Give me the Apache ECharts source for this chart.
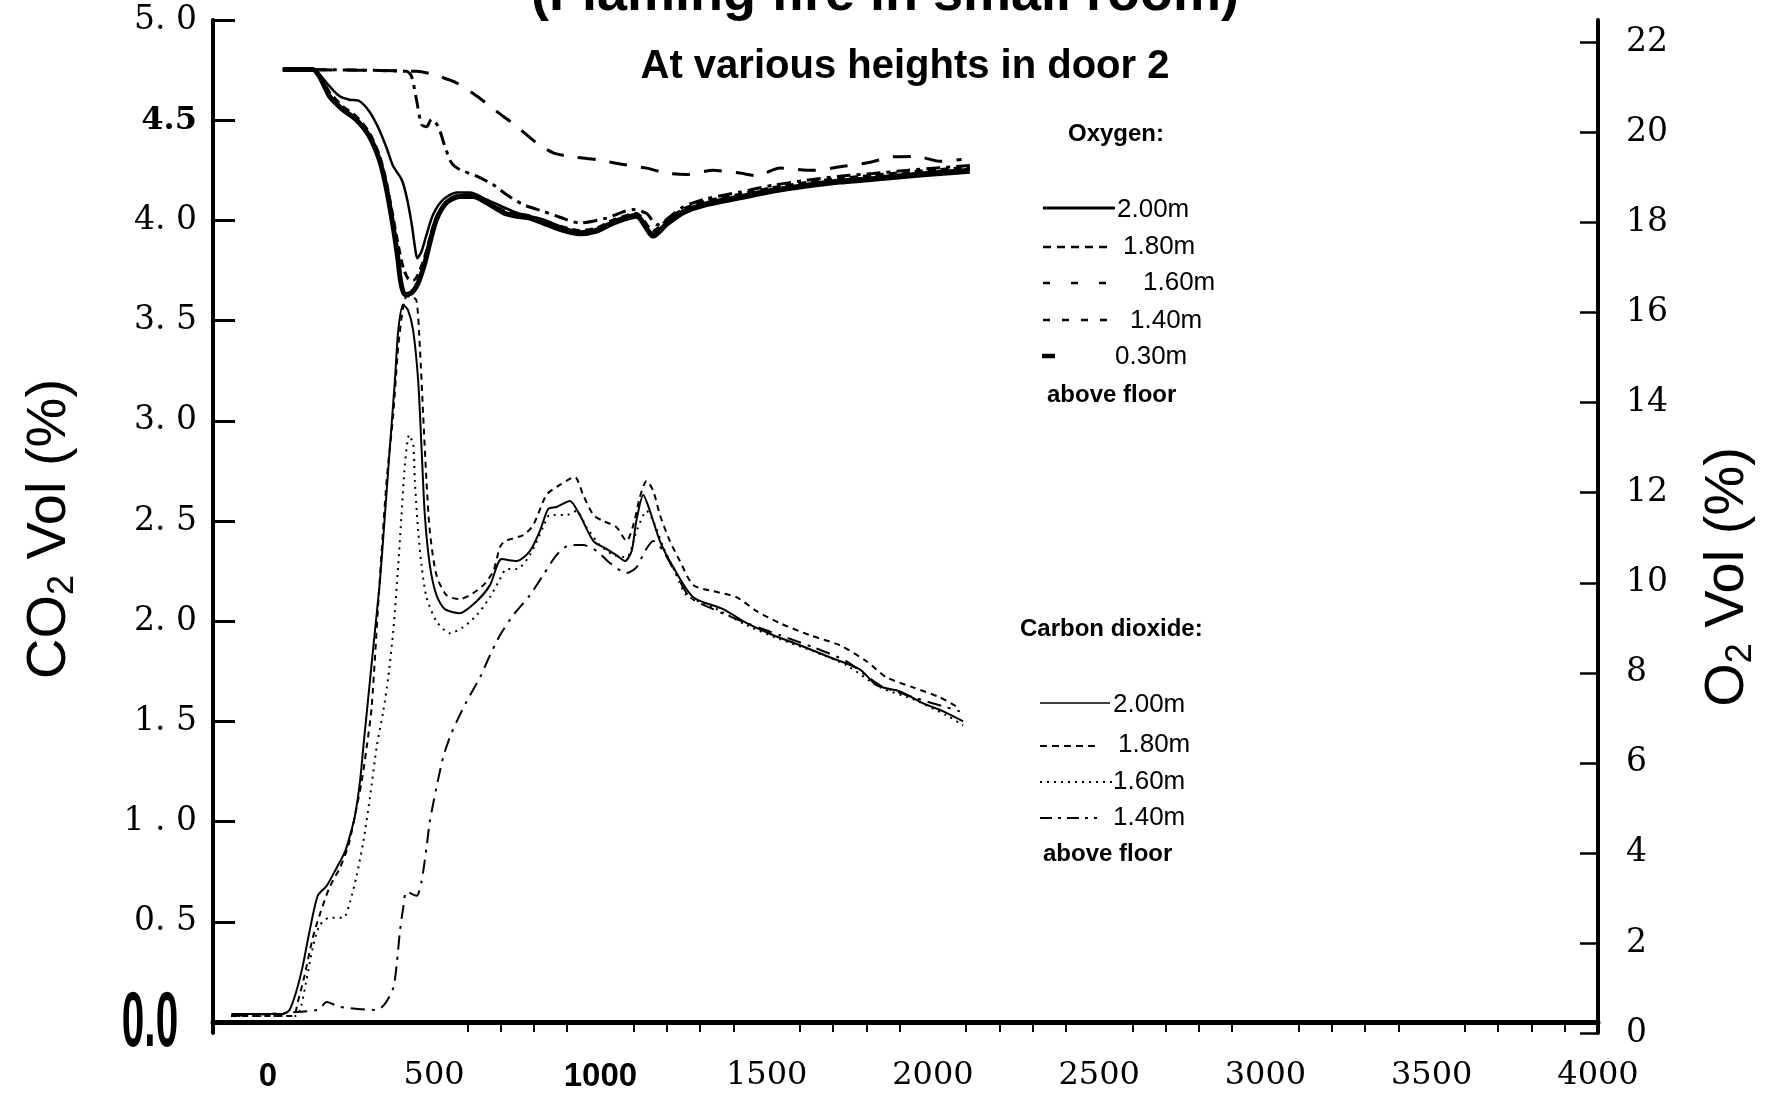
<!DOCTYPE html>
<html>
<head>
<meta charset="utf-8">
<script src="https://cdn.jsdelivr.net/npm/echarts@6/dist/echarts.min.js"></script>
</head>
<body style="margin:0;background:#fff">
<div id="main" style="width:1775px;height:1099px;"></div>
<script type="text/javascript">
// time axis (s) ticks
var xTickValues = [0, 500, 1000, 1500, 2000, 2500, 3000, 3500, 4000];
var xTickLabels = ['0', '500', '1000', '1500', '2000', '2500', '3000', '3500', '4000'];
var xMinorTicks = [600, 700, 800, 900, 1100, 1200, 1300, 1400, 1600, 1700, 1800, 1900, 2100, 2200,
    2300, 2400, 2600, 2700, 2800, 2900, 3100, 3200, 3300, 3400, 3600, 3700, 3800, 3900];
var co2TickValues = [0, 0.5, 1, 1.5, 2, 2.5, 3, 3.5, 4, 4.5, 5];
var co2TickLabels = ['0.0', '0. 5', '1 . 0', '1. 5', '2. 0', '2. 5', '3. 0', '3. 5', '4. 0', '4.5', '5. 0'];
var o2TickValues = [0, 2, 4, 6, 8, 10, 12, 14, 16, 18, 20, 22];

// Oxygen, right axis
var o2Time200 = [45, 135, 155, 185, 215, 245, 275, 305, 330, 355, 377, 402, 417, 432, 442, 449, 462, 477, 497, 527, 568, 608, 658, 748, 828, 878, 938, 988, 1039, 1108, 1159, 1199, 1249, 1319, 1420, 1520, 1620, 1720, 1820, 1921, 2021, 2111];
var o2Val200 = [21.4, 21.4, 21.29, 21.03, 20.81, 20.73, 20.7, 20.47, 20.14, 19.7, 19.25, 18.96, 18.58, 17.99, 17.47, 17.21, 17.36, 17.73, 18.18, 18.51, 18.67, 18.67, 18.51, 18.22, 18.07, 17.92, 17.8, 17.86, 18.04, 18.19, 17.75, 18.01, 18.27, 18.45, 18.6, 18.75, 18.86, 18.95, 19.01, 19.08, 19.14, 19.19];
var o2Time180 = [45, 135, 155, 185, 225, 265, 305, 335, 355, 377, 392, 407, 422, 437, 452, 472, 487, 507, 537, 577, 617, 658, 708, 748, 788, 828, 878, 938, 988, 1039, 1108, 1159, 1199, 1249, 1319, 1420, 1520, 1620, 1720, 1820, 1921, 2021, 2111];
var o2Val180 = [21.4, 21.4, 21.27, 20.9, 20.58, 20.36, 20.0, 19.5, 18.95, 18.1, 17.5, 17.0, 16.75, 16.72, 16.85, 17.25, 17.65, 18.12, 18.47, 18.62, 18.62, 18.48, 18.27, 18.19, 18.15, 18.04, 17.92, 17.82, 17.88, 18.06, 18.2, 17.82, 18.05, 18.3, 18.48, 18.63, 18.78, 18.89, 18.98, 19.05, 19.12, 19.18, 19.23];
var o2Time160 = [45, 447, 497, 568, 628, 688, 748, 808, 858, 918, 988, 1069, 1139, 1199, 1259, 1339, 1420, 1470, 1540, 1640, 1730, 1811, 1881, 1951, 2021, 2086];
var o2Val160 = [21.4, 21.36, 21.29, 21.1, 20.81, 20.47, 20.14, 19.77, 19.55, 19.46, 19.4, 19.29, 19.21, 19.1, 19.07, 19.16, 19.1, 19.04, 19.21, 19.16, 19.25, 19.34, 19.46, 19.47, 19.36, 19.4];
var o2Time140 = [45, 417, 432, 447, 462, 477, 492, 512, 532, 552, 577, 628, 678, 718, 768, 828, 878, 938, 1018, 1098, 1139, 1170, 1199, 1249, 1319, 1420, 1520, 1620, 1720, 1820, 1921, 2021, 2111];
var o2Val140 = [21.4, 21.36, 21.25, 20.73, 20.18, 20.13, 20.29, 20.14, 19.7, 19.33, 19.18, 19.03, 18.84, 18.62, 18.4, 18.25, 18.12, 17.99, 18.1, 18.29, 18.2, 17.95, 18.07, 18.35, 18.53, 18.68, 18.83, 18.94, 19.03, 19.09, 19.16, 19.22, 19.27];
var o2Time030 = [45, 135, 155, 185, 225, 265, 305, 335, 355, 375, 390, 400, 412, 432, 452, 472, 487, 507, 537, 577, 617, 658, 708, 748, 788, 828, 878, 938, 988, 1039, 1108, 1159, 1199, 1249, 1319, 1420, 1520, 1620, 1720, 1820, 1921, 2021, 2111];
var o2Val030 = [21.4, 21.4, 21.25, 20.81, 20.51, 20.29, 19.92, 19.4, 18.81, 17.99, 17.25, 16.66, 16.4, 16.44, 16.66, 17.1, 17.55, 18.07, 18.44, 18.58, 18.58, 18.44, 18.22, 18.14, 18.1, 17.99, 17.85, 17.75, 17.81, 17.99, 18.14, 17.7, 17.96, 18.22, 18.4, 18.55, 18.7, 18.81, 18.9, 18.96, 19.03, 19.09, 19.14];

// Carbon dioxide, left axis
var co2Time200 = [-110, 45, 65, 85, 105, 125, 150, 177, 207, 232, 247, 262, 277, 287, 302, 317, 337, 352, 367, 382, 392, 407, 422, 437, 452, 462, 472, 487, 507, 532, 577, 628, 668, 703, 748, 788, 818, 843, 868, 908, 938, 979, 1019, 1048, 1074, 1094, 1108, 1129, 1149, 1179, 1219, 1279, 1369, 1440, 1520, 1600, 1690, 1780, 1831, 1901, 1971, 2031, 2091];
var co2Val200 = [0.04, 0.04, 0.06, 0.15, 0.28, 0.45, 0.63, 0.68, 0.77, 0.85, 0.93, 1.03, 1.2, 1.37, 1.62, 1.87, 2.2, 2.53, 2.87, 3.2, 3.45, 3.58, 3.55, 3.45, 3.2, 2.87, 2.53, 2.28, 2.13, 2.06, 2.04, 2.1, 2.18, 2.31, 2.3, 2.35, 2.45, 2.56, 2.57, 2.6, 2.53, 2.4, 2.36, 2.33, 2.3, 2.35, 2.5, 2.63, 2.55, 2.4, 2.27, 2.12, 2.06, 1.99, 1.93, 1.88, 1.82, 1.76, 1.68, 1.65, 1.59, 1.55, 1.5];
var co2Time180 = [-110, 75, 90, 110, 135, 155, 185, 217, 242, 262, 282, 297, 312, 337, 357, 377, 392, 407, 417, 432, 447, 457, 467, 477, 487, 507, 537, 577, 608, 648, 678, 698, 713, 768, 798, 838, 878, 923, 948, 979, 1008, 1048, 1079, 1099, 1119, 1139, 1159, 1179, 1209, 1239, 1279, 1339, 1409, 1470, 1540, 1630, 1720, 1800, 1860, 1940, 2021, 2076];
var co2Val180 = [0.03, 0.03, 0.1, 0.23, 0.42, 0.53, 0.67, 0.77, 0.88, 1.03, 1.2, 1.37, 1.57, 2.22, 2.7, 3.03, 3.37, 3.57, 3.62, 3.62, 3.6, 3.37, 3.03, 2.7, 2.45, 2.23, 2.13, 2.11, 2.13, 2.18, 2.25, 2.37, 2.4, 2.43, 2.48, 2.63, 2.68, 2.72, 2.63, 2.53, 2.5, 2.47, 2.4, 2.48, 2.62, 2.7, 2.65, 2.53, 2.4, 2.3, 2.18, 2.15, 2.12, 2.05, 1.99, 1.93, 1.88, 1.8, 1.72, 1.67, 1.62, 1.57];
var co2Time160 = [-110, 85, 100, 115, 135, 155, 185, 227, 247, 267, 287, 307, 327, 347, 362, 377, 392, 402, 412, 425, 437, 442, 452, 462, 477, 507, 547, 587, 628, 668, 698, 718, 748, 788, 828, 848, 898, 928, 958, 998, 1039, 1079, 1109, 1139, 1159, 1189, 1229, 1259, 1339, 1440, 1540, 1640, 1740, 1841, 1941, 2041, 2091];
var co2Val160 = [0.03, 0.03, 0.08, 0.2, 0.37, 0.48, 0.52, 0.52, 0.6, 0.73, 0.9, 1.12, 1.37, 1.55, 1.72, 1.95, 2.28, 2.53, 2.78, 2.93, 2.88, 2.7, 2.45, 2.28, 2.12, 2.0, 1.94, 1.97, 2.03, 2.12, 2.21, 2.26, 2.26, 2.33, 2.47, 2.53, 2.53, 2.55, 2.47, 2.38, 2.33, 2.32, 2.45, 2.55, 2.5, 2.37, 2.23, 2.13, 2.07, 1.98, 1.91, 1.85, 1.78, 1.67, 1.61, 1.53, 1.48];
var co2Time140 = [-110, 150, 177, 217, 327, 352, 377, 387, 397, 407, 417, 447, 462, 477, 487, 507, 527, 547, 568, 598, 638, 668, 698, 738, 788, 828, 868, 908, 948, 989, 1029, 1079, 1109, 1134, 1159, 1189, 1229, 1269, 1339, 1440, 1540, 1640, 1740, 1841, 1941, 2041, 2081];
var co2Val140 = [0.03, 0.06, 0.1, 0.075, 0.06, 0.09, 0.17, 0.28, 0.45, 0.57, 0.65, 0.63, 0.7, 0.87, 1.0, 1.17, 1.32, 1.42, 1.5, 1.6, 1.72, 1.83, 1.93, 2.03, 2.13, 2.23, 2.33, 2.38, 2.38, 2.35, 2.29, 2.24, 2.27, 2.35, 2.4, 2.35, 2.23, 2.12, 2.06, 1.99, 1.93, 1.87, 1.8, 1.68, 1.62, 1.57, 1.55];

function pairs(ts, vs) {
    return ts.map(function (t, i) { return [t, vs[i]]; });
}

function curve(name, yIndex, ts, vs, width, dash) {
    return {
        name: name,
        type: 'line',
        yAxisIndex: yIndex,
        data: pairs(ts, vs),
        showSymbol: false,
        smooth: 0.25,
        silent: true,
        lineStyle: { color: '#000', width: width, type: dash }
    };
}

var sans = 'Liberation Sans, Arial, sans-serif';
var serif = 'DejaVu Serif, serif';

function txt(x, y, text, size, bold) {
    return {
        type: 'text', x: x, y: y,
        style: { text: text, font: (bold ? 'bold ' : '') + size + 'px ' + sans, fill: '#000', verticalAlign: 'middle' }
    };
}
function seg(x1, x2, y, width, dash) {
    return {
        type: 'line',
        shape: { x1: x1, y1: y, x2: x2, y2: y },
        style: { stroke: '#000', lineWidth: width, lineDash: dash }
    };
}

var myChart = echarts.init(document.getElementById('main'));

var option = {
    backgroundColor: '#fff',
    animation: false,
    grid: { left: 213, right: 177, top: 20, bottom: 66, containLabel: false, outerBoundsMode: 'none' },
    xAxis: {
        type: 'value',
        min: -165,
        max: 4000,
        splitLine: { show: false },
        axisLine: { onZero: true, onZeroAxisIndex: 0, lineStyle: { color: '#000', width: 5 } },
        axisTick: { show: true, customValues: xMinorTicks, length: 10, lineStyle: { color: '#000', width: 2 } },
        axisLabel: {
            customValues: xTickValues,
            margin: 27,
            color: '#000',
            fontFamily: serif,
            fontSize: 32,
            formatter: function (v) {
                var s = xTickLabels[xTickValues.indexOf(v)];
                return (v === 0 || v === 1000) ? '{b|' + s + '}' : s;
            },
            rich: { b: { fontFamily: sans, fontWeight: 'bold', fontSize: 33, color: '#000' } }
        }
    },
    yAxis: [
        {
            type: 'value',
            position: 'left',
            min: -0.055,
            max: 5,
            splitLine: { show: false },
            axisLine: { show: true, onZero: false, lineStyle: { color: '#000', width: 4 } },
            axisTick: { show: true, inside: true, length: 22, customValues: co2TickValues, lineStyle: { color: '#000', width: 3 } },
            axisLabel: {
                customValues: co2TickValues,
                margin: 16,
                color: '#000',
                fontFamily: serif,
                fontSize: 33,
                formatter: function (v) {
                    // the 0.0 label is drawn separately in a condensed face
                    if (v === 0) return '';
                    var s = co2TickLabels[Math.round(v * 2)];
                    return v === 4.5 ? '{b|' + s + '}' : s;
                },
                rich: { b: { fontFamily: serif, fontWeight: 'bold', fontSize: 32, color: '#000' } }
            }
        },
        {
            type: 'value',
            position: 'right',
            min: 0,
            max: 22.5,
            alignTicks: false,
            splitLine: { show: false },
            axisLine: { show: true, onZero: false, lineStyle: { color: '#000', width: 4 } },
            axisTick: { show: true, inside: true, length: 18, customValues: o2TickValues, lineStyle: { color: '#000', width: 2.5 } },
            axisLabel: { customValues: o2TickValues, margin: 28, color: '#000', fontFamily: serif, fontSize: 33 }
        }
    ],
    graphic: [
        // titles
        { type: 'text', x: 885, y: -5, style: { text: '(Flaming fire in small room)', font: 'bold 54px ' + sans, fill: '#000', align: 'center', verticalAlign: 'middle' } },
        { type: 'text', x: 905, y: 67, style: { text: 'At various heights in door 2', font: 'bold 40px ' + sans, fill: '#000', align: 'center', verticalAlign: 'middle' } },
        // condensed bold origin label
        { type: 'text', x: 150, y: 1024, scaleX: 0.52, style: { text: co2TickLabels[0], font: 'bold 78px ' + sans, fill: '#000', align: 'center', verticalAlign: 'middle' } },
        // axis names
        {
            type: 'text', x: 50, y: 529, rotation: Math.PI / 2,
            style: {
                text: 'CO{sub|2} Vol (%)', font: '56px ' + sans, fill: '#000', align: 'center', verticalAlign: 'middle',
                rich: { sub: { fontSize: 36, fontFamily: sans, padding: [26, 0, 0, 0] } }
            }
        },
        {
            type: 'text', x: 1728, y: 577, rotation: Math.PI / 2,
            style: {
                text: 'O{sub|2} Vol (%)', font: '56px ' + sans, fill: '#000', align: 'center', verticalAlign: 'middle',
                rich: { sub: { fontSize: 36, fontFamily: sans, padding: [26, 0, 0, 0] } }
            }
        },
        // oxygen key
        txt(1068, 134, 'Oxygen:', 24, true),
        seg(1043, 1115, 208, 3, null), txt(1117, 210, '2.00m', 26),
        seg(1043, 1107, 247, 2.5, [8, 6]), txt(1123, 247, '1.80m', 26),
        seg(1043, 1107, 283, 2.5, [7, 21]), txt(1143, 283, '1.60m', 26),
        seg(1043, 1107, 320, 2.5, [7, 12]), txt(1130, 321, '1.40m', 26),
        seg(1042, 1055, 356, 4.5, null), txt(1115, 357, '0.30m', 26),
        txt(1047, 395, 'above floor', 24, true),
        // carbon dioxide key
        txt(1020, 629, 'Carbon dioxide:', 24, true),
        seg(1040, 1110, 703, 1.5, null), txt(1113, 705, '2.00m', 26),
        seg(1040, 1097, 746, 2, [7, 5]), txt(1118, 745, '1.80m', 26),
        seg(1040, 1112, 782, 2, [2, 5]), txt(1113, 782, '1.60m', 26),
        seg(1040, 1097, 818, 2, [12, 6, 3, 6]), txt(1113, 818, '1.40m', 26),
        txt(1043, 854, 'above floor', 24, true)
    ],
    series: [
        curve('O2 2.00m', 1, o2Time200, o2Val200, 2.5, 'solid'),
        curve('O2 1.80m', 1, o2Time180, o2Val180, 3, [8, 5]),
        curve('O2 1.60m', 1, o2Time160, o2Val160, 3, [18, 14]),
        curve('O2 1.40m', 1, o2Time140, o2Val140, 3, [14, 6, 4, 6]),
        curve('O2 0.30m', 1, o2Time030, o2Val030, 5, 'solid'),
        curve('CO2 2.00m', 0, co2Time200, co2Val200, 2, 'solid'),
        curve('CO2 1.80m', 0, co2Time180, co2Val180, 2, [6, 5]),
        curve('CO2 1.60m', 0, co2Time160, co2Val160, 2, [2, 5]),
        curve('CO2 1.40m', 0, co2Time140, co2Val140, 2, [14, 7, 3, 7])
    ]
};

myChart.setOption(option);
</script>
</body>
</html>
